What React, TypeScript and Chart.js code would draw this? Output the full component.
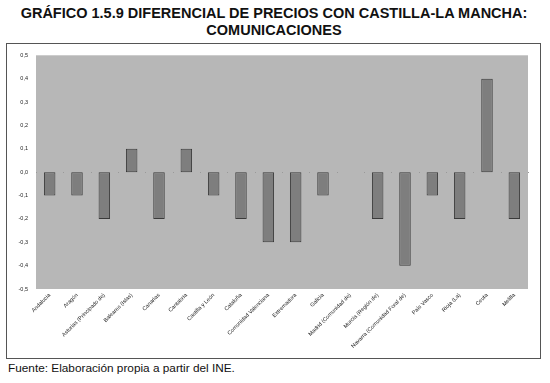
import React, { useEffect, useRef } from "react";
import { Chart, registerables } from "chart.js";

Chart.register(...registerables);

const categories = [
  "Andalucia",
  "Aragón",
  "Asturias (Principado de)",
  "Baleares (Islas)",
  "Canarias",
  "Cantabria",
  "Castilla y León",
  "Cataluña",
  "Comunidad Valenciana",
  "Extremadura",
  "Galicia",
  "Madrid (Comunidad de)",
  "Murcia (Región de)",
  "Navarra (Comunidad Foral de)",
  "País Vasco",
  "Rioja (La)",
  "Ceuta",
  "Melilla",
];

const values = [-0.1, -0.1, -0.2, 0.1, -0.2, 0.1, -0.1, -0.2, -0.3, -0.3, -0.1, 0, -0.2, -0.4, -0.1, -0.2, 0.4, -0.2];

const yMin = -0.5;
const yMax = 0.5;
const yStep = 0.1;

const plotBgPlugin = {
  id: "plotBg",
  beforeDraw(chart: any) {
    const { ctx, chartArea } = chart;
    ctx.save();
    ctx.fillStyle = "#b7b7b7";
    ctx.fillRect(chartArea.left, chartArea.top, chartArea.right - chartArea.left, chartArea.bottom - chartArea.top);
    ctx.restore();
  },
  beforeDatasetsDraw(chart: any) {
    const { ctx, chartArea, scales } = chart;
    const y0 = Math.round(scales.y.getPixelForValue(0));
    const n = categories.length;
    const w = (chartArea.right - chartArea.left) / n;
    ctx.save();
    ctx.fillStyle = "#999999";
    for (let i = 0; i <= n; i++) {
      const x = Math.round(chartArea.left + i * w);
      ctx.fillRect(x, y0, 1, 1);
    }
    ctx.restore();
  },
};

export default function App() {
  const ref = useRef<HTMLCanvasElement>(null);
  useEffect(() => {
    if (!ref.current) return;
    const chart = new Chart(ref.current, {
      type: "bar",
      data: {
        labels: categories,
        datasets: [
          {
            data: values,
            backgroundColor: "#7e7e7e",
            borderColor: "#3a3a3a",
            borderWidth: 1,
            borderSkipped: false,
            barPercentage: 0.42,
            categoryPercentage: 1,
          },
        ],
      },
      options: {
        animation: false,
        responsive: false,
        maintainAspectRatio: false,
        layout: { padding: { left: 0, right: 12, top: 10, bottom: 0 } },
        plugins: {
          legend: { display: false },
          tooltip: { enabled: false },
        },
        scales: {
          x: {
            grid: { display: false, drawTicks: false },
            border: { display: false },
            ticks: {
              minRotation: 45,
              maxRotation: 45,
              autoSkip: false,
              padding: 3,
              font: { family: "Arial, 'Liberation Sans', sans-serif", size: 5.5 },
              color: "#222",
            },
            afterFit(scale: any) {
              scale.height = 69;
            },
          },
          y: {
            min: yMin,
            max: yMax,
            grid: { display: false, drawTicks: false },
            border: { display: false },
            ticks: {
              stepSize: yStep,
              padding: 8,
              font: { family: "Arial, 'Liberation Sans', sans-serif", size: 5.5 },
              color: "#222",
              callback: (v: any) => Number(v).toFixed(1).replace(".", ","),
            },
            afterFit(scale: any) {
              scale.width = 29;
            },
          },
        },
      },
      plugins: [plotBgPlugin],
    });
    return () => chart.destroy();
  }, []);

  return (
    <div
      style={{
        position: "fixed",
        left: 0,
        top: 0,
        width: 550,
        height: 383,
        background: "#fff",
        fontFamily: "Arial, 'Liberation Sans', sans-serif",
      }}
    >
      <div
        style={{
          position: "absolute",
          left: 0,
          top: 5,
          width: 548,
          textAlign: "center",
          fontWeight: "bold",
          fontSize: 14.5,
          lineHeight: "17px",
          color: "#111",
        }}
      >
        GRÁFICO 1.5.9 DIFERENCIAL DE PRECIOS CON CASTILLA-LA MANCHA:
        <br />
        COMUNICACIONES
      </div>
      <div
        style={{
          position: "absolute",
          left: 6,
          top: 43,
          width: 533,
          height: 314,
          border: "1px solid #555",
          boxSizing: "content-box",
        }}
      >
        <canvas ref={ref} width={533} height={314} style={{ display: "block" }} />
      </div>
      <div
        style={{
          position: "absolute",
          left: 8,
          top: 361,
          fontSize: 11.8,
          color: "#111",
          whiteSpace: "nowrap",
        }}
      >
        Fuente: Elaboración propia a partir del INE.
      </div>
    </div>
  );
}
